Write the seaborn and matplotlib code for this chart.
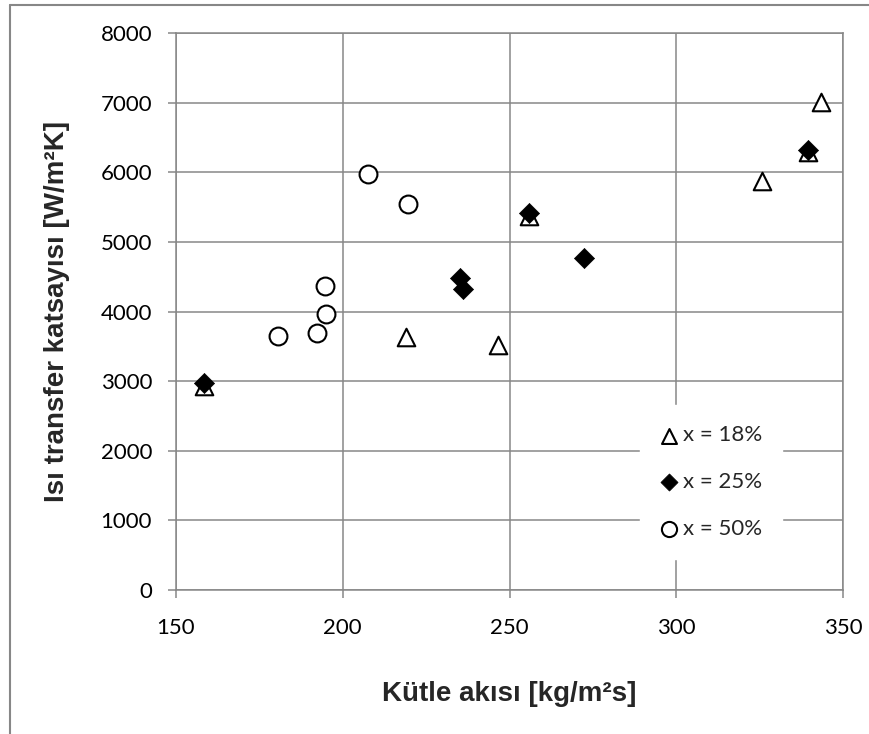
import pandas as pd
import seaborn as sns
import matplotlib.pyplot as plt
from matplotlib.lines import Line2D

# Seaborn style first, fonts after (set_style resets font.family)
sns.set_style("ticks")
plt.rcParams['font.family'] = ['Lato', 'DejaVu Sans']

# Data
x18 = [158.6, 219.0, 246.7, 255.8, 325.5, 339.3, 343.2]
y18 = [2930, 3640, 3520, 5370, 5880, 6300, 7015]

x25 = [158.6, 235.2, 236.2, 255.8, 272.3, 339.3]
y25 = [2970, 4480, 4320, 5420, 4770, 6330]

x50 = [180.6, 192.2, 194.8, 194.9, 207.7, 219.5]
y50 = [3655, 3700, 4370, 3970, 5980, 5540]

labels = ['x = 18%', 'x = 25%', 'x = 50%']
xticks = [150, 200, 250, 300, 350]
yticks = [0, 1000, 2000, 3000, 4000, 5000, 6000, 7000, 8000]

grid_col = '#878787'
bold_font = ['Liberation Sans', 'DejaVu Sans']

fig = plt.figure(figsize=(8.69, 7.34), dpi=100)
ax = fig.add_axes([175.7 / 869, 1 - 590 / 734, 667.6 / 869, 556.7 / 734])

# Open triangles, filled diamonds, open circles
sns.scatterplot(x=x18, y=y18, ax=ax, marker='^', s=160,
  facecolor='white', edgecolor='black', linewidth=1.5,
  label=labels[0], zorder=3)
sns.scatterplot(x=x25, y=y25, ax=ax, marker='D', s=105,
  color='black', edgecolor='black', linewidth=0.5,
  label=labels[1], zorder=4)
sns.scatterplot(x=x50, y=y50, ax=ax, marker='o', s=165,
  facecolor='white', edgecolor='black', linewidth=1.5,
  label=labels[2], zorder=5)

ax.set_xlim(150, 350)
ax.set_ylim(0, 8000)
ax.set_xticks(xticks)
ax.set_yticks(yticks)
ax.grid(True, color=grid_col, linewidth=1.1)
ax.set_axisbelow(True)
for sp in ax.spines.values():
  sp.set_color(grid_col)
  sp.set_linewidth(1.1)
ax.tick_params(axis='both', colors=grid_col, length=6, width=1.1,
  labelsize=16, labelcolor='black')
ax.tick_params(axis='x', pad=14)
ax.tick_params(axis='y', pad=11)

ax.set_xlabel('Kütle akısı [kg/m²s]', fontsize=20, fontweight='bold',
  family=bold_font, labelpad=31)
ax.set_ylabel('Isı transfer katsayısı [W/m²K]', fontsize=20,
  fontweight='bold', family=bold_font, labelpad=22)

leg = ax.legend(loc='center', bbox_to_anchor=(0.802, 0.194),
  frameon=True, fontsize=16, handlelength=0.8, handletextpad=0.25,
  labelspacing=1.2, borderpad=0.9, fancybox=False, markerscale=0.85)
leg.get_frame().set_facecolor('white')
leg.get_frame().set_edgecolor('white')
leg.get_frame().set_alpha(1)

# Chart-area border (left and top edges visible in the reference)
fig.add_artist(Line2D([10 / 869, 10 / 869], [0, 1 - 5 / 734],
  transform=fig.transFigure, color=grid_col, linewidth=1.5))
fig.add_artist(Line2D([10 / 869, 1], [1 - 5 / 734, 1 - 5 / 734],
  transform=fig.transFigure, color=grid_col, linewidth=1.5))

fig.savefig('out.png', dpi=100)
